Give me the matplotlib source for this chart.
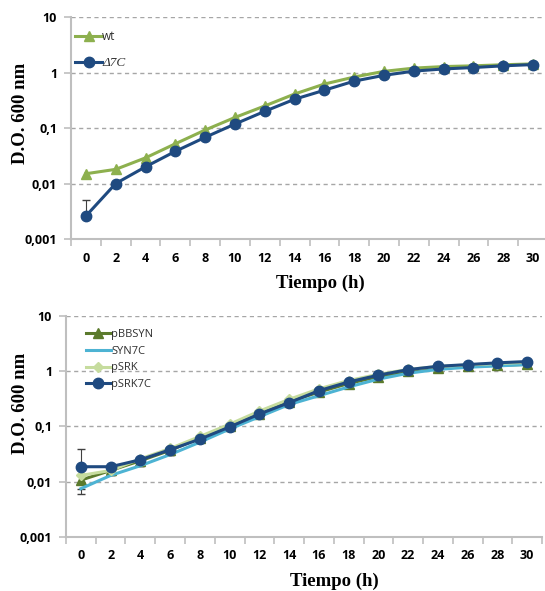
import numpy as np
import matplotlib.pyplot as plt
from matplotlib.ticker import FixedLocator, NullLocator

# data
horas = [0, 2, 4, 6, 8, 10, 12, 14, 16, 18, 20, 22, 24, 26, 28, 30]
wt = [0.015, 0.018, 0.029, 0.052, 0.092, 0.155, 0.25, 0.41, 0.62, 0.83, 1.05, 1.2, 1.28, 1.32, 1.38, 1.43]
d7c = [0.0026, 0.010, 0.020, 0.038, 0.068, 0.118, 0.20, 0.33, 0.48, 0.70, 0.89, 1.06, 1.16, 1.23, 1.32, 1.39]
d7c_err_up = [0.0024, 0, 0, 0, 0, 0, 0, 0, 0, 0, 0, 0, 0, 0, 0, 0]

pbbsyn = [0.0107, 0.016, 0.024, 0.037, 0.062, 0.10, 0.17, 0.28, 0.42, 0.60, 0.80, 1.00, 1.15, 1.22, 1.28, 1.33]
syn7c = [0.0075, 0.013, 0.0195, 0.031, 0.052, 0.09, 0.15, 0.25, 0.36, 0.52, 0.72, 0.92, 1.08, 1.18, 1.25, 1.32]
psrk = [0.013, 0.016, 0.026, 0.040, 0.066, 0.11, 0.19, 0.31, 0.48, 0.68, 0.88, 1.08, 1.22, 1.30, 1.38, 1.45]
psrk7c = [0.0187, 0.0187, 0.025, 0.038, 0.059, 0.098, 0.168, 0.27, 0.445, 0.64, 0.85, 1.07, 1.23, 1.32, 1.42, 1.50]
psrk7c_err_up = [0.020, 0, 0, 0, 0, 0, 0, 0, 0, 0, 0, 0, 0, 0, 0, 0]
syn7c_err_dn = [0.0014, 0, 0, 0, 0, 0, 0, 0, 0, 0, 0, 0, 0, 0, 0, 0]

ytick_vals = [0.001, 0.01, 0.1, 1, 10]
ytick_labels = ['0,001', '0,01', '0,1', '1', '10']

# colours
c_wt = '#8db04e'
c_blue = '#1f4a80'
c_olive = '#5b7a2c'
c_cyan = '#4db3d3'
c_light = '#c6dc9e'
grey = '#bfbfbf'

tick_font = dict(family='Open Sans', weight='bold', size=9)
label_font = dict(family='Liberation Serif', weight='bold')

fig = plt.figure(figsize=(5.45, 5.91), dpi=100)
ax1 = fig.add_axes([0.1303, 0.5956, 0.8752, 0.3756])
ax2 = fig.add_axes([0.1211, 0.0914, 0.8734, 0.3739])


def style_axes(ax):
    ax.set_yscale('log')
    ax.set_ylim(0.001, 10)
    ax.set_xlim(-1, 31)
    ax.yaxis.set_major_locator(FixedLocator(ytick_vals))
    ax.yaxis.set_minor_locator(NullLocator())
    ax.set_yticklabels(ytick_labels, fontdict=tick_font)
    ax.set_xticks(horas)
    ax.set_xticklabels([str(h) for h in horas], fontdict=tick_font)
    ax.set_xticks(np.arange(-1, 32, 2), minor=True)
    ax.tick_params(axis='x', which='major', length=0, pad=9)
    ax.tick_params(axis='x', which='minor', length=5, color=grey, width=1.2, direction='out')
    ax.tick_params(axis='y', which='major', length=5, color=grey, width=1.2, pad=5)
    for s in ['top', 'right']:
        ax.spines[s].set_visible(False)
    for s in ['left', 'bottom']:
        ax.spines[s].set_color(grey)
        ax.spines[s].set_linewidth(1.5)
    for v in [0.01, 0.1, 1, 10]:
        ax.axhline(v, color='#a6a6a6', lw=1, ls=(0, (3, 2.5)), zorder=0)


style_axes(ax1)
ax1.errorbar(horas, d7c, yerr=[np.zeros(len(horas)), d7c_err_up], fmt='none',
             ecolor='#404040', elinewidth=0.8, capsize=3, zorder=2)
ax1.plot(horas, wt, color=c_wt, lw=2.2, marker='^', ms=7, label='wt', zorder=3)
ax1.plot(horas, d7c, color=c_blue, lw=2.2, marker='o', ms=7.5, label='Δ7C', zorder=4)
leg1 = ax1.legend(loc='upper left', bbox_to_anchor=(-0.014, 0.99), frameon=False,
                  handlelength=2.3, handletextpad=0.0, labelspacing=1.2,
                  prop=dict(family='Open Sans', size=8.5))
for t in leg1.get_texts():
    t.set_color('#303030')
leg1.get_texts()[1].set_fontproperties(dict(family='Liberation Serif', style='italic', size=9.5))

style_axes(ax2)
ax2.errorbar(horas, psrk7c, yerr=[np.zeros(len(horas)), psrk7c_err_up], fmt='none',
             ecolor='#404040', elinewidth=0.8, capsize=3, zorder=2)
ax2.errorbar(horas, syn7c, yerr=[syn7c_err_dn, np.zeros(len(horas))], fmt='none',
             ecolor='#404040', elinewidth=0.8, capsize=3, zorder=2)
ax2.plot(horas, pbbsyn, color=c_olive, lw=2.2, marker='^', ms=6.5, label='pBBSYN', zorder=3)
ax2.plot(horas, syn7c, color=c_cyan, lw=2.2, label='SYN7C', zorder=3)
ax2.plot(horas, psrk, color=c_light, lw=2.2, marker='D', ms=5, label='pSRK', zorder=3)
ax2.plot(horas, psrk7c, color=c_blue, lw=2.2, marker='o', ms=7.5, label='pSRK7C', zorder=4)
leg2 = ax2.legend(loc='upper left', bbox_to_anchor=(0.02, 0.985), frameon=False,
                  handlelength=2.3, handletextpad=0.0, labelspacing=0.5,
                  prop=dict(family='Open Sans', size=8))
for t in leg2.get_texts():
    t.set_color('#303030')

# axis titles
fig.text(0.0367, 0.8088, 'D.O. 600 nm', rotation=90, ha='center', va='center', fontsize=13.5, **label_font)
fig.text(0.0367, 0.318, 'D.O. 600 nm', rotation=90, ha='center', va='center', fontsize=13.5, **label_font)
fig.text(0.587, 0.5212, 'Tiempo (h)', ha='center', va='center', fontsize=13.5, **label_font)
fig.text(0.613, 0.0170, 'Tiempo (h)', ha='center', va='center', fontsize=13.5, **label_font)

fig.savefig('out.png', dpi=100)
